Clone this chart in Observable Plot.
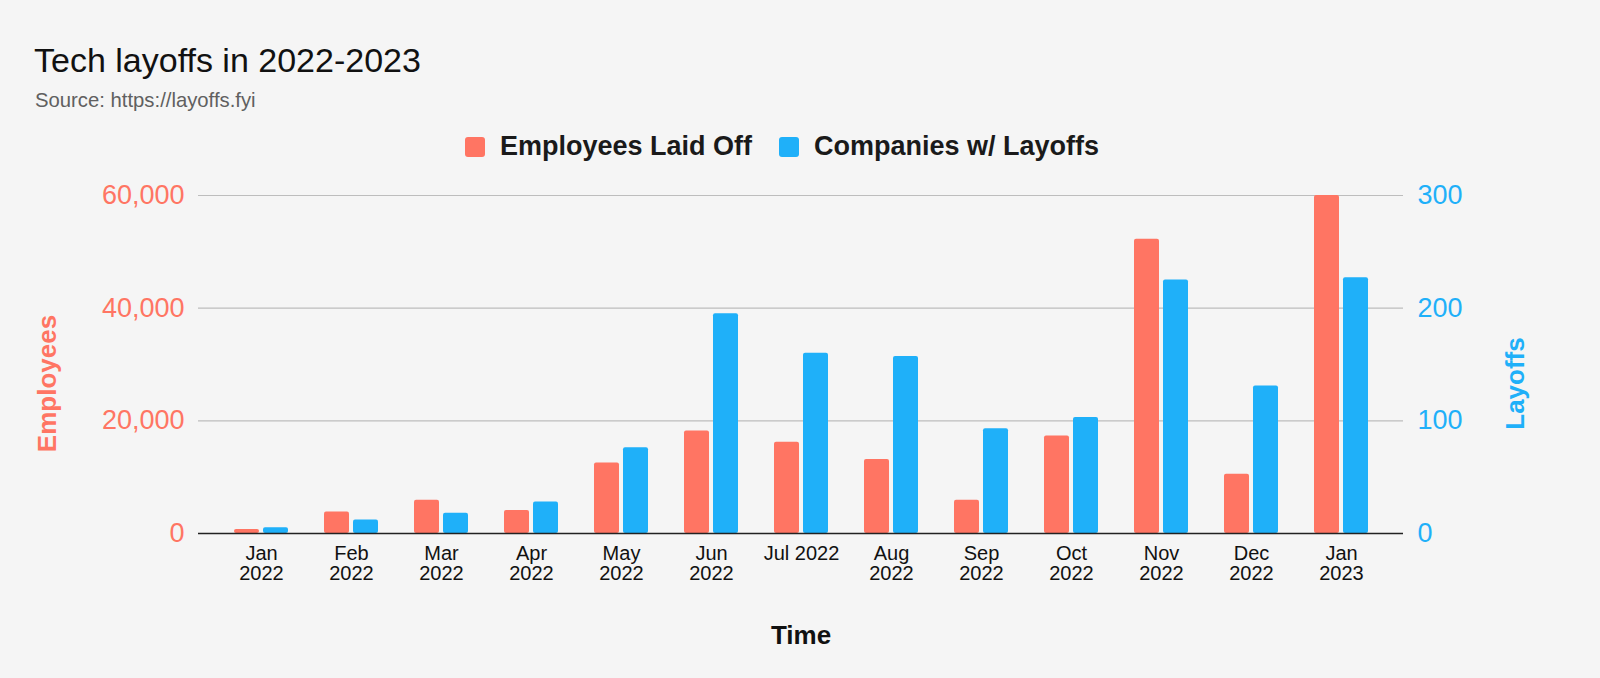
<!DOCTYPE html>
<html>
<head>
<meta charset="utf-8">
<script src="https://cdn.jsdelivr.net/npm/d3@7"></script>
<script src="https://cdn.jsdelivr.net/npm/@observablehq/plot@0.6"></script>
<style>
  html, body { margin: 0; padding: 0; background: #f5f5f5; }
  body { width: 1600px; height: 678px; position: relative; overflow: hidden;
         font-family: "Liberation Sans", Arial, Helvetica, sans-serif; }
  #title { position: absolute; left: 34px; top: 43px; font-size: 34px; line-height: 34px; color: #111; }
  #subtitle { position: absolute; left: 35px; top: 90px; font-size: 20.3px; line-height: 20px; color: #606060; }
  .leg { position: absolute; top: 137px; height: 20px; display: flex; align-items: center; }
  .leg .sw { width: 20px; height: 20px; border-radius: 3px; margin-right: 15px; }
  .leg span { font-size: 27px; line-height: 20px; font-weight: bold; color: #1a1a1a; position: relative; top: -1px; }
  #chart { position: absolute; left: 0; top: 170px; }
</style>
</head>
<body>
<div id="title">Tech layoffs in 2022-2023</div>
<div id="subtitle">Source: https://layoffs.fyi</div>
<div class="leg" style="left:465px"><div class="sw" style="background:#ff7563"></div><span>Employees Laid Off</span></div>
<div class="leg" style="left:779px"><div class="sw" style="background:#1fb0f9"></div><span>Companies w/ Layoffs</span></div>
<div id="chart"></div>
<script>
const months = ["Jan 2022","Feb 2022","Mar 2022","Apr 2022","May 2022","Jun 2022","Jul 2022","Aug 2022","Sep 2022","Oct 2022","Nov 2022","Dec 2022","Jan 2023"];
const tickLabels = ["Jan\n2022","Feb\n2022","Mar\n2022","Apr\n2022","May\n2022","Jun\n2022","Jul 2022","Aug\n2022","Sep\n2022","Oct\n2022","Nov\n2022","Dec\n2022","Jan\n2023"];
const employeesLaidOff = [700, 3800, 5900, 4100, 12500, 18200, 16200, 13150, 5900, 17300, 52250, 10500, 60000];
const companiesWithLayoffs = [5, 12, 18, 28, 76, 195, 160, 157, 93, 103, 225, 131, 227];
const leftTicks = [0, 20000, 40000, 60000];
const rightTicks = [0, 100, 200, 300];

const RED = "#ff7563";
const BLUE = "#1fb0f9";
const ratio = leftTicks[leftTicks.length - 1] / rightTicks[rightTicks.length - 1];

const rows = months.map((m, i) => ({
  month: m,
  employees: employeesLaidOff[i],
  companies: companiesWithLayoffs[i],
  companiesScaled: companiesWithLayoffs[i] * ratio
}));

const chart = Plot.plot({
  width: 1600,
  height: 508,
  marginTop: 25,
  marginBottom: 145,
  marginLeft: 198,
  marginRight: 197,
  style: { background: "transparent", fontFamily: "'Liberation Sans', Arial, Helvetica, sans-serif" },
  x: { domain: months, paddingInner: 0.4, paddingOuter: 0.394, label: null },
  y: { domain: [0, 60000], label: null },
  marks: [
    Plot.gridY(leftTicks.slice(1), { stroke: "#bdbdbd", strokeOpacity: 1, strokeWidth: 1.2 }),
    Plot.barY(rows, { x: "month", y: "employees", fill: RED, insetRight: 29, rx: 2 }),
    Plot.barY(rows, { x: "month", y: "companiesScaled", fill: BLUE, insetLeft: 29, rx: 2 }),
    Plot.ruleY([0], { stroke: "#222", strokeWidth: 1.5 }),
    Plot.axisX({ tickSize: 0, tickPadding: 12, fontSize: 20, lineHeight: 1, color: "#111",
                 tickFormat: d => tickLabels[months.indexOf(d)], label: null }),
    Plot.axisY({ anchor: "left", ticks: leftTicks, tickSize: 0, tickPadding: 14, fontSize: 27,
                 color: RED, tickFormat: d3.format(","), label: null }),
    Plot.axisY({ anchor: "right", ticks: leftTicks, tickSize: 0, tickPadding: 14, fontSize: 27,
                 color: BLUE, tickFormat: d => String(d / ratio), label: null }),
    Plot.text(["Employees"], { text: d => d, frameAnchor: "left", dx: -151, dy: 19, rotate: -90,
                 fontSize: 26, fontWeight: "bold", fill: RED, textAnchor: "middle", lineAnchor: "middle" }),
    Plot.text(["Layoffs"], { text: d => d, frameAnchor: "right", dx: 112, dy: 19, rotate: -90,
                 fontSize: 26, fontWeight: "bold", fill: BLUE, textAnchor: "middle", lineAnchor: "middle" }),
    Plot.text(["Time"], { text: d => d, frameAnchor: "bottom", dy: 102,
                 fontSize: 26, fontWeight: "bold", fill: "#111", textAnchor: "middle", lineAnchor: "middle" })
  ]
});
document.getElementById("chart").appendChild(chart);
</script>
</body>
</html>
